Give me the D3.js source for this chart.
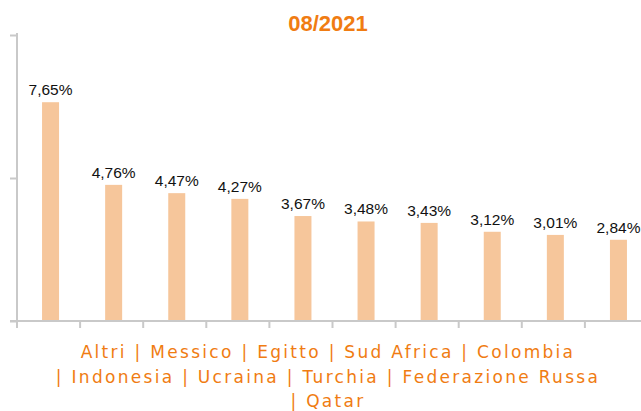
<!DOCTYPE html>
<html>
<head>
<meta charset="utf-8">
<script src="https://cdn.jsdelivr.net/npm/d3@7"></script>
<style>
  body { margin: 0; background: #fff; }
</style>
</head>
<body>
<div id="chart"></div>
<script>
const title = "08/2021";
const countries = ["Altri", "Messico", "Egitto", "Sud Africa", "Colombia",
  "Indonesia", "Ucraina", "Turchia", "Federazione Russa", "Qatar"];
const shares = [7.65, 4.76, 4.47, 4.27, 3.67, 3.48, 3.43, 3.12, 3.01, 2.84];
const yTicks = [0, 5, 10];

const width = 641, height = 411;
const orange = "#f07c12";
const axisGrey = "#c9c9c9";

const svg = d3.select("#chart").append("svg")
    .attr("width", width)
    .attr("height", height)
    .attr("viewBox", [0, 0, width, height]);

const x = d3.scaleBand(countries, [17, 648]);
const y = d3.scaleLinear([0, 10], [321, 35]);
const barW = 17;

// title
svg.append("text")
    .attr("x", 328)
    .attr("y", 31)
    .attr("text-anchor", "middle")
    .attr("font-family", "Liberation Sans, Arial, sans-serif")
    .attr("font-weight", "bold")
    .attr("font-size", 22)
    .attr("fill", orange)
    .text(title);

// y axis
svg.append("g")
    .attr("transform", `translate(${x.range()[0]},0)`)
    .call(d3.axisLeft(y).tickValues(yTicks).tickSize(7).tickSizeOuter(0).tickFormat(""))
    .call(g => g.select(".domain").attr("stroke", axisGrey).attr("stroke-width", 2)
        .attr("d", `M0,${y(10) - 2}V${y(0)}`))
    .call(g => g.selectAll(".tick line").attr("stroke", axisGrey).attr("stroke-width", 2));

// bars
svg.append("g")
  .selectAll("rect")
  .data(countries)
  .join("rect")
    .attr("x", d => x(d) + x.bandwidth() / 2 + 2 - barW / 2)
    .attr("y", (d, i) => y(shares[i]))
    .attr("width", barW)
    .attr("height", (d, i) => y(0) - y(shares[i]))
    .attr("fill", "#f6c69b");

// value labels
svg.append("g")
    .attr("font-family", "Liberation Sans, Arial, sans-serif")
    .attr("font-size", 15.5)
    .attr("text-anchor", "middle")
  .selectAll("text")
  .data(countries)
  .join("text")
    .attr("x", d => x(d) + x.bandwidth() / 2 + 2)
    .attr("y", (d, i) => y(shares[i]) - 7)
    .attr("fill", "#111")
    .text((d, i) => d3.format(".2f")(shares[i]).replace(".", ",") + "%");

// x axis
const xa = svg.append("g");
xa.append("line")
    .attr("x1", 10).attr("x2", width)
    .attr("y1", y(0)).attr("y2", y(0))
    .attr("stroke", axisGrey).attr("stroke-width", 2);
xa.selectAll(".tk")
  .data(countries)
  .join("line")
    .attr("class", "tk")
    .attr("x1", d => x(d)).attr("x2", d => x(d))
    .attr("y1", y(0)).attr("y2", y(0) + 7)
    .attr("stroke", axisGrey).attr("stroke-width", 2);

// category labels, all in one wrapped block
const lines = [
  countries.slice(0, 5).join(" | "),
  "| " + countries.slice(5, 9).join(" | "),
  "| " + countries[9]
];
svg.append("g")
    .attr("font-family", "DejaVu Sans, Verdana, sans-serif")
    .attr("font-size", 17)
    .attr("letter-spacing", 2.3)
    .attr("text-anchor", "middle")
    .attr("fill", orange)
  .selectAll("text")
  .data(lines)
  .join("text")
    .attr("x", 328)
    .attr("y", (d, i) => 358 + i * 24.5)
    .text(d => d);
</script>
</body>
</html>
